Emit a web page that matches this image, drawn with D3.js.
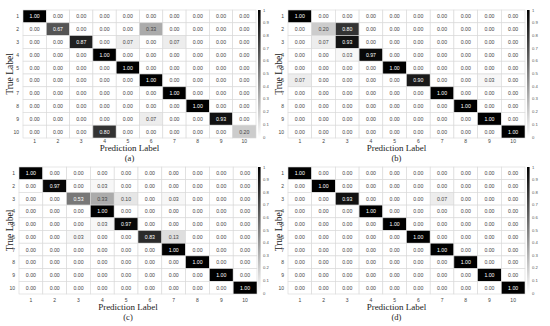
<!DOCTYPE html>
<html><head><meta charset="utf-8">
<script src="https://cdn.jsdelivr.net/npm/d3@7"></script>
<style>body{margin:0;background:#fff}svg{display:block}</style>
</head><body>
<svg id="chart" width="550" height="326"></svg>
<script>
const classLabels = ["1","2","3","4","5","6","7","8","9","10"];
const colorbarTicks = [0,0.1,0.2,0.3,0.4,0.5,0.6,0.7,0.8,0.9,1];
const panelNames = ["(a)","(b)","(c)","(d)"];

const matrixA = [
 [1,0,0,0,0,0,0,0,0,0],
 [0,0.67,0,0,0,0.33,0,0,0,0],
 [0,0,0.87,0,0.07,0,0.07,0,0,0],
 [0,0,0,1,0,0,0,0,0,0],
 [0,0,0,0,1,0,0,0,0,0],
 [0,0,0,0,0,1,0,0,0,0],
 [0,0,0,0,0,0,1,0,0,0],
 [0,0,0,0,0,0,0,1,0,0],
 [0,0,0,0,0,0.07,0,0,0.93,0],
 [0,0,0,0.80,0,0,0,0,0,0.20]
];
const matrixB = [
 [1,0,0,0,0,0,0,0,0,0],
 [0,0.20,0.80,0,0,0,0,0,0,0],
 [0,0.07,0.93,0,0,0,0,0,0,0],
 [0,0,0.03,0.97,0,0,0,0,0,0],
 [0,0,0,0,1,0,0,0,0,0],
 [0.07,0,0,0,0,0.90,0,0,0.03,0],
 [0,0,0,0,0,0,1,0,0,0],
 [0,0,0,0,0,0,0,1,0,0],
 [0,0,0,0,0,0,0,0,1,0],
 [0,0,0,0,0,0,0,0,0,1]
];
const matrixC = [
 [1,0,0,0,0,0,0,0,0,0],
 [0,0.97,0,0.03,0,0,0,0,0,0],
 [0,0,0.53,0.33,0.10,0,0.03,0,0,0],
 [0,0,0,1,0,0,0,0,0,0],
 [0,0,0,0.03,0.97,0,0,0,0,0],
 [0,0,0.03,0,0,0.83,0.13,0,0,0],
 [0,0,0,0,0,0,1,0,0,0],
 [0,0,0,0,0,0,0,1,0,0],
 [0,0,0,0,0,0,0,0,1,0],
 [0,0,0,0,0,0,0,0,0,1]
];
const matrixD = [
 [1,0,0,0,0,0,0,0,0,0],
 [0,1,0,0,0,0,0,0,0,0],
 [0,0,0.93,0,0,0,0.07,0,0,0],
 [0,0,0,1,0,0,0,0,0,0],
 [0,0,0,0,1,0,0,0,0,0],
 [0,0,0,0,0,1,0,0,0,0],
 [0,0,0,0,0,0,1,0,0,0],
 [0,0,0,0,0,0,0,1,0,0],
 [0,0,0,0,0,0,0,0,1,0],
 [0,0,0,0,0,0,0,0,0,1]
];

const layouts = [
 {m:matrixA, x0:23, x1:256, y0:10, y1:138, cbx:258, ylab:9.5, plY:151, capY:160.5, tickY:143},
 {m:matrixB, x0:288, x1:525, y0:10, y1:138, cbx:527, ylab:279, plY:151, capY:160.5, tickY:143},
 {m:matrixC, x0:19, x1:257, y0:167, y1:294, cbx:258, ylab:9.5, plY:310, capY:319.5, tickY:301.5},
 {m:matrixD, x0:288, x1:525, y0:167, y1:294, cbx:527, ylab:279, plY:310, capY:319.5, tickY:301.5}
];

const svg = d3.select("#chart");
const color = d3.scaleLinear().domain([0,1]).range(["#ffffff","#000000"]);

const defs = svg.append("defs");
const grad = defs.append("linearGradient").attr("id","cbgrad")
  .attr("x1","0").attr("y1","1").attr("x2","0").attr("y2","0");
colorbarTicks.forEach(t => grad.append("stop").attr("offset", t).attr("stop-color", color(t)));

const sans = "'Liberation Sans', Arial, sans-serif";
const serif = "'Liberation Serif', 'Times New Roman', serif";

layouts.forEach((L, pi) => {
  const g = svg.append("g");
  const x = d3.scaleBand().domain(classLabels).range([L.x0, L.x1]);
  const y = d3.scaleBand().domain(classLabels).range([L.y0, L.y1]);
  const cells = [];
  L.m.forEach((row, ri) => row.forEach((v, ci) => cells.push({r:classLabels[ri], c:classLabels[ci], v})));

  g.selectAll("rect.cell").data(cells).join("rect").attr("class","cell")
    .attr("x", d => x(d.c)).attr("y", d => y(d.r))
    .attr("width", x.bandwidth()).attr("height", y.bandwidth())
    .attr("fill", d => color(d.v)).attr("stroke", "#d8d8d8").attr("stroke-width", 0.6);

  g.selectAll("text.val").data(cells).join("text").attr("class","val")
    .attr("x", d => x(d.c) + x.bandwidth()/2).attr("y", d => y(d.r) + y.bandwidth()/2)
    .attr("text-anchor","middle").attr("dominant-baseline","central")
    .attr("font-family", sans).attr("font-size", 5.2)
    .attr("fill", d => d.v > 0.5 ? "#ffffff" : "#444")
    .text(d => d.v.toFixed(2));

  g.selectAll("text.rl").data(classLabels).join("text").attr("class","rl")
    .attr("x", L.x0 - 4).attr("y", d => y(d) + y.bandwidth()/2)
    .attr("text-anchor","end").attr("dominant-baseline","central")
    .attr("font-family", sans).attr("font-size", 5).attr("fill","#444").text(d => d);
  g.selectAll("text.cl").data(classLabels).join("text").attr("class","cl")
    .attr("x", d => x(d) + x.bandwidth()/2).attr("y", L.tickY)
    .attr("text-anchor","middle")
    .attr("font-family", sans).attr("font-size", 5).attr("fill","#444").text(d => d);

  const cy = d3.scaleLinear().domain([0,1]).range([L.y1 - 1, L.y0]);
  g.append("rect").attr("x", L.cbx).attr("y", L.y0).attr("width", 2.6).attr("height", L.y1 - 1 - L.y0)
    .attr("fill","url(#cbgrad)");
  g.selectAll("text.cb").data(colorbarTicks).join("text").attr("class","cb")
    .attr("x", L.cbx + 5).attr("y", d => cy(d))
    .attr("dominant-baseline","central")
    .attr("font-family", sans).attr("font-size", 4.2).attr("fill","#555")
    .text(d => d === 0 ? "0" : d === 1 ? "1" : d3.format(".1f")(d));

  g.append("text").attr("transform", `translate(${L.ylab},${(L.y0+L.y1)/2}) rotate(-90)`)
    .attr("text-anchor","middle").attr("dominant-baseline","central")
    .attr("font-family", serif).attr("font-size", 9.5).attr("fill","#222").text("True Label");
  const cx = (L.x0 + L.x1)/2 - 10;
  g.append("text").attr("x", cx).attr("y", L.plY).attr("text-anchor","middle")
    .attr("font-family", serif).attr("font-size", 9).attr("fill","#222").text("Prediction Label");
  g.append("text").attr("x", cx).attr("y", L.capY).attr("text-anchor","middle")
    .attr("font-family", serif).attr("font-size", 8.5).attr("fill","#222").text(panelNames[pi]);
});
</script>
</body></html>
